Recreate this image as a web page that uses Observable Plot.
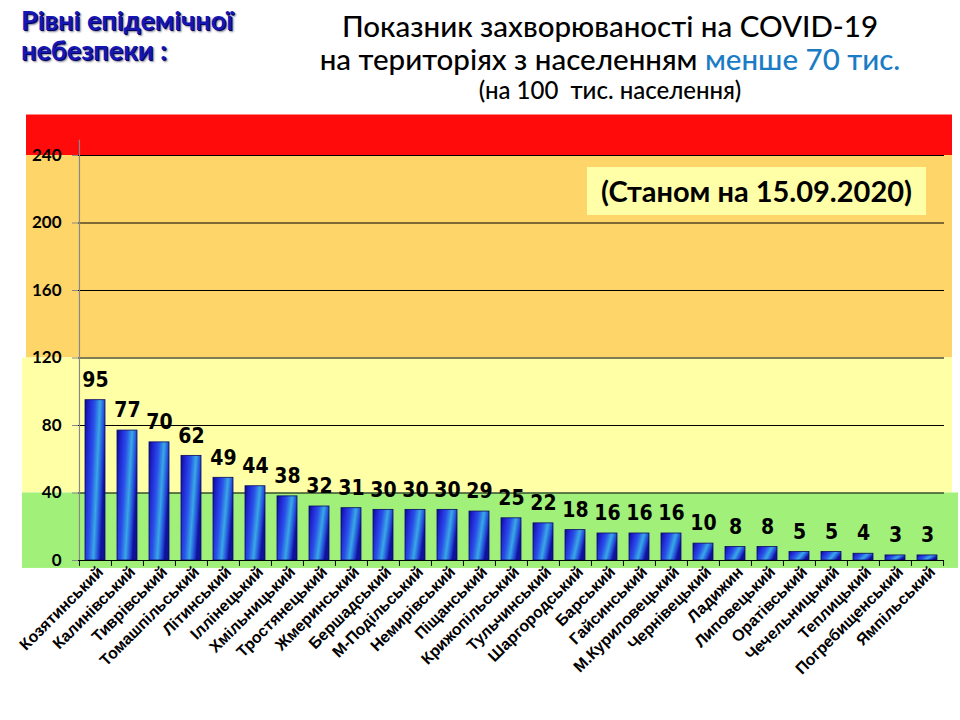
<!DOCTYPE html>
<html><head><meta charset="utf-8">
<script src="https://cdn.jsdelivr.net/npm/d3@7"></script>
<script src="https://cdn.jsdelivr.net/npm/@observablehq/plot@0.6"></script>
<style>
body{margin:0;background:#fff;width:960px;height:720px;position:relative;overflow:hidden;font-family:Lato,"Open Sans",sans-serif}
#chart{position:absolute;left:0;top:0}
.lvl{position:absolute;left:21px;top:5px;font:bold 27px/30px Lato,sans-serif;color:#1616B4;text-shadow:1px 1px 0 #050560,2px 2px 2px rgba(0,0,40,.5)}
.title{position:absolute;left:280px;width:660px;text-align:center;color:#000;font-family:Lato,sans-serif;font-weight:500}
.t1{top:8px;font-size:29.5px}
.t2{top:41px;font-size:29.5px}
.t3{top:75px;font-size:24px}
.blue{color:#1A7CC4}
.date{position:absolute;left:587px;top:167px;width:339px;height:48px;background:#FFFFA8;font:bold 29px/48px Lato,"Open Sans",sans-serif;text-align:center;color:#000}
</style></head>
<body>
<div id="chart"></div>
<div class="lvl">Рівні епідемічної<br>небезпеки :</div>
<div class="title t1">Показник захворюваності на COVID-19</div>
<div class="title t2">на територіях з населенням <span class="blue">менше 70 тис.</span></div>
<div class="title t3">(на 100&nbsp; тис. населення)</div>
<div class="date">(Станом на 15.09.2020)</div>
<script>
const districts = ["Козятинський","Калинівський","Тиврівський","Томашпільський","Літинський","Іллінецький","Хмільницький","Тростянецький","Жмеринський","Бершадський","М-Подільський","Немирівський","Піщанський","Крижопільський","Тульчинський","Шаргородський","Барський","Гайсинський","М.Куриловецький","Чернівецький","Ладижин","Липовецький","Оратівський","Чечельницький","Теплицький","Погребищенський","Ямпільський"];
const values = [95,77,70,62,49,44,38,32,31,30,30,30,29,25,22,18,16,16,16,10,8,8,5,5,4,3,3];
const yTicks = [0,40,80,120,160,200,240];
const levelFrom = [-4.7, 40, 120, 240];
const levelTo = [40, 120, 240, 264];
const levelColors = ["#A0F07A", "#FFFFA6", "#FDD568", "#FF0B0B"];

const data = districts.map((d, i) => ({district: d, value: values[i]}));
const levels = levelFrom.map((f, i) => ({from: f, to: levelTo[i], color: levelColors[i]}));

const W = 960, H = 720, mL = 78, mR = 16, mT = 155, mB = 160;
const step = (W - mL - mR) / districts.length;

const plot = Plot.plot({
  width: W, height: H,
  marginLeft: mL, marginRight: mR, marginTop: mT, marginBottom: mB,
  style: {background: "transparent", overflow: "visible"},
  x: {domain: districts, paddingInner: 0.37, paddingOuter: 0.185, label: null},
  y: {domain: [0, 240], label: null},
  marks: [
    Plot.rect(levels.slice(2), {y1: "from", y2: "to", fill: "color", insetLeft: -52, insetRight: -8}),
    Plot.rect(levels.slice(1, 2), {y1: "from", y2: "to", fill: "color", insetLeft: -56, insetRight: -8}),
    Plot.rect(levels.slice(0, 1), {y1: "from", y2: "to", fill: "color", insetLeft: -56, insetRight: -14}),
    Plot.ruleY(yTicks.filter(t => t > 0), {stroke: "#000", strokeWidth: 1.2}),
    Plot.ruleX([districts[0]], {y1: 0, y2: 249, dx: -step / 2, stroke: "#888", strokeWidth: 1.2}),
    Plot.axisY({ticks: yTicks, tickSize: 6, tickPadding: 11, fontSize: 17, fontWeight: "bold", fontFamily: "Lato, sans-serif", label: null, stroke: "#888"}),
    Plot.barY(data, {x: "district", y: "value", fill: "url(#barGrad)", stroke: "#0A0A60", strokeWidth: 0.8}),
    Plot.text(data, {x: "district", y: "value", text: d => String(d.value), dy: -20, fontSize: 21, fontWeight: "bold", fontFamily: "DejaVu Sans Condensed, DejaVu Sans, sans-serif", fill: "#000"}),
    Plot.ruleY([0], {stroke: "#000", strokeWidth: 1.2}),
    Plot.ruleX(districts, {y1: 0, y2: -3.5, dx: -step / 2, stroke: "#000"}),
    Plot.ruleX([districts[districts.length - 1]], {y1: 0, y2: -3.5, dx: step / 2, stroke: "#000"}),
    Plot.axisX({tickSize: 0, tickPadding: 9, tickRotate: -45, dx: 5, fontSize: 16, fontWeight: "bold", fontFamily: "Liberation Sans, Arial, sans-serif", label: null})
  ]
});

const svg = d3.select(plot);
const defs = svg.insert("defs", ":first-child");
const g = defs.append("linearGradient").attr("id", "barGrad")
  .attr("x1", "0").attr("y1", "0").attr("x2", "1").attr("y2", "0.35");
[["0%", "#0C0C8A"], ["18%", "#1E22D0"], ["45%", "#2A52E8"], ["68%", "#38A8E6"], ["88%", "#2248D8"], ["100%", "#10129A"]]
  .forEach(([o, c]) => g.append("stop").attr("offset", o).attr("stop-color", c));
document.getElementById("chart").appendChild(plot);
</script>
</body></html>
